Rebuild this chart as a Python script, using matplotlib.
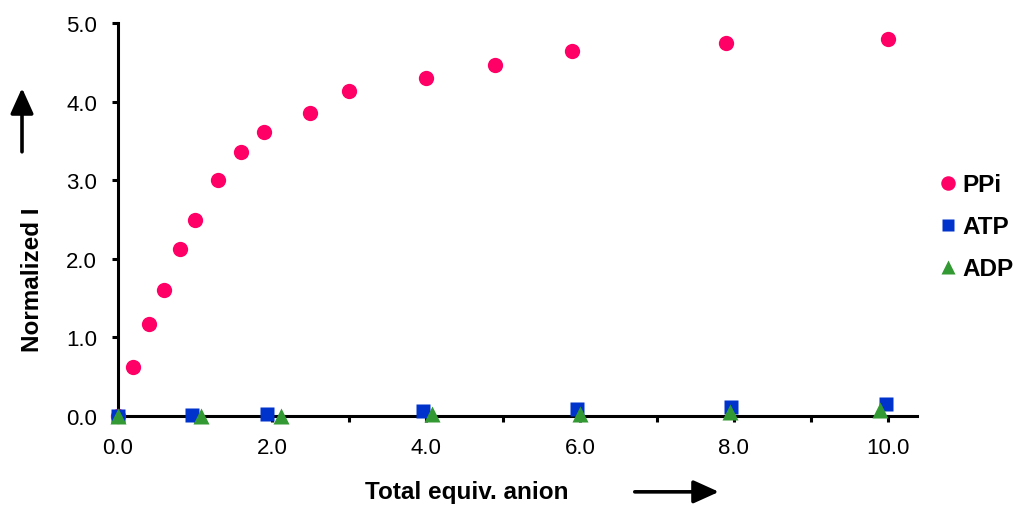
import matplotlib.pyplot as plt
import numpy as np

plt.rcParams['font.family'] = ['Liberation Sans', 'DejaVu Sans']

# titration data: total equivalents of anion vs normalized intensity
ppi_x = [0.0, 0.2, 0.4, 0.6, 0.8, 1.0, 1.3, 1.6, 1.9, 2.5, 3.0, 4.0, 4.9, 5.9, 7.9, 10.0]
ppi_y = [0.0, 0.62, 1.17, 1.60, 2.12, 2.49, 3.00, 3.36, 3.61, 3.85, 4.13, 4.30, 4.47, 4.64, 4.75, 4.80]
atp_x = [0.0, 0.96, 1.93, 3.96, 5.96, 7.96, 9.98]
atp_y = [0.0, 0.01, 0.03, 0.06, 0.09, 0.12, 0.15]
adp_x = [0.0, 1.08, 2.12, 4.08, 6.0, 7.95, 9.9]
adp_y = [0.0, 0.0, 0.0, 0.02, 0.03, 0.05, 0.08]

xticks = np.arange(0, 11, 2)
yticks = np.arange(0, 5.5, 1)

fig = plt.figure(figsize=(10.14, 5.06), dpi=100)
ax = fig.add_axes([0.1164, 0.176, 0.788, 0.7766])

ax.plot(ppi_x, ppi_y, 'o', color='#FF0066', ms=11, mec='none', clip_on=False, zorder=3, label='PPi')
ax.plot(atp_x, atp_y, 's', color='#0033CC', ms=9.5, mec='none', clip_on=False, zorder=4, label='ATP')
ax.plot(adp_x, adp_y, '^', color='#339933', ms=11, mec='none', clip_on=False, zorder=5, label='ADP')

ax.set_xlim(0, 10.38)
ax.set_ylim(0, 5)
ax.set_xticks(xticks)
ax.set_xticklabels(['%.1f' % v for v in xticks])
ax.set_xticks(np.arange(1, 11, 2), minor=True)
ax.set_yticks(yticks)
ax.set_yticklabels(['%.1f' % v for v in yticks])

for s in ['top', 'right']:
    ax.spines[s].set_visible(False)
for s in ['left', 'bottom']:
    ax.spines[s].set_linewidth(2.2)
ax.tick_params(axis='both', which='both', direction='out', width=2.2, labelsize=16)
ax.tick_params(axis='y', length=4.5, pad=10.5)
ax.tick_params(axis='x', which='both', length=4, pad=11)

fig.legend(loc='center left', bbox_to_anchor=(0.906, 0.55), frameon=False,
           prop={'weight': 'bold', 'size': 17.5}, handletextpad=0.3,
           labelspacing=0.78, handlelength=0.6, markerscale=0.95)

fig.text(0.032, 0.447, 'Normalized I', rotation=90, ha='center', va='center',
         fontsize=17.5, fontweight='bold')
fig.text(0.46, 0.026, 'Total equiv. anion', ha='center', va='center',
         fontsize=17.5, fontweight='bold')

# direction arrows next to the axis labels
arrow = dict(arrowstyle='-|>,head_length=1.55,head_width=0.7', lw=2.6, color='black',
             shrinkA=0, shrinkB=0)
fig.add_artist(plt.Annotation('', xy=(0.0217, 0.824), xytext=(0.0217, 0.698),
               xycoords='figure fraction', arrowprops=arrow))
fig.add_artist(plt.Annotation('', xy=(0.709, 0.026), xytext=(0.626, 0.026),
               xycoords='figure fraction', arrowprops=arrow))

fig.savefig('out.png', dpi=100)
